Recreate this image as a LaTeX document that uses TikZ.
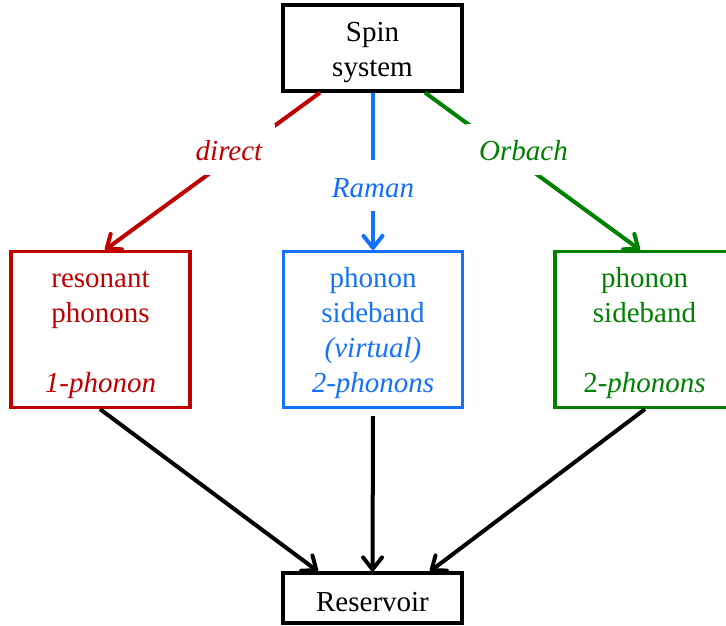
\documentclass[tikz,border=0pt]{standalone}
\usepackage{fontspec}
\setmainfont{Liberation Serif}
\usetikzlibrary{arrows.meta}
\definecolor{redc}{RGB}{192,0,0}
\definecolor{bluec}{RGB}{20,112,255}
\definecolor{greenc}{RGB}{0,128,0}
\newcommand{\dn}{\rule{0pt}{28pt}}
\tikzset{
  box/.style={draw, line width=3.2pt, rectangle, minimum width=179pt, align=center, inner sep=0pt, font=\fontsize{29}{35}\selectfont},
  conn/.style={line width=4pt, -{Straight Barb[length=12pt,width=19pt,line cap=round,line join=round]}},
  lab/.style={fill=white, inner xsep=13pt, inner ysep=13pt, text height=24pt, text depth=1pt, font=\fontsize{29}{35}\selectfont\itshape}
}
\begin{document}
\begin{tikzpicture}[x=1pt,y=-1pt]
\useasboundingbox (0,0) rectangle (726,625);
\clip (0,0) rectangle (726,625);
\node[box, minimum height=86pt] (spin) at (372.5,48) {\dn Spin\\system};
\node[box, minimum height=156pt, draw=redc, text=redc] (red) at (100.5,329.5) {\dn resonant\\phonons\\\mbox{}\\\textit{1-phonon}};
\node[box, minimum height=156pt, draw=bluec, text=bluec] (blue) at (373,329.5) {\dn phonon\\sideband\\\textit{(virtual)}\\\textit{2-phonons}};
\node[box, minimum height=156pt, draw=greenc, text=greenc] (green) at (644.5,329.5) {\dn phonon\\sideband\\\mbox{}\\2-\textit{phonons}};
\node[box, minimum height=50pt] (res) at (372.5,598) {\rule{0pt}{27pt}Reservoir};
\draw[conn, redc] ([xshift=-52.5pt]spin.south) -- ([xshift=4.5pt]red.north);
\draw[conn, bluec] ([xshift=0.5pt]spin.south) -- (blue.north);
\draw[conn, greenc] ([xshift=52.5pt]spin.south) -- ([xshift=-4.5pt]green.north);
\node[lab, text=redc] (ldirect) at (229,149) {direct};
\node[lab, text=bluec] (lraman) at (373,185.5) {Raman};
\node[lab, text=greenc] (lorbach) at (523.5,149) {Orbach};
\draw[conn] ([xshift=-0.5pt]red.south) -- ([xshift=-54.5pt]res.north);
\draw[conn] ([yshift=-7pt]blue.south) -- (res.north);
\draw[conn] ([xshift=0.5pt]green.south) -- ([xshift=57.5pt]res.north);
\end{tikzpicture}
\end{document}
